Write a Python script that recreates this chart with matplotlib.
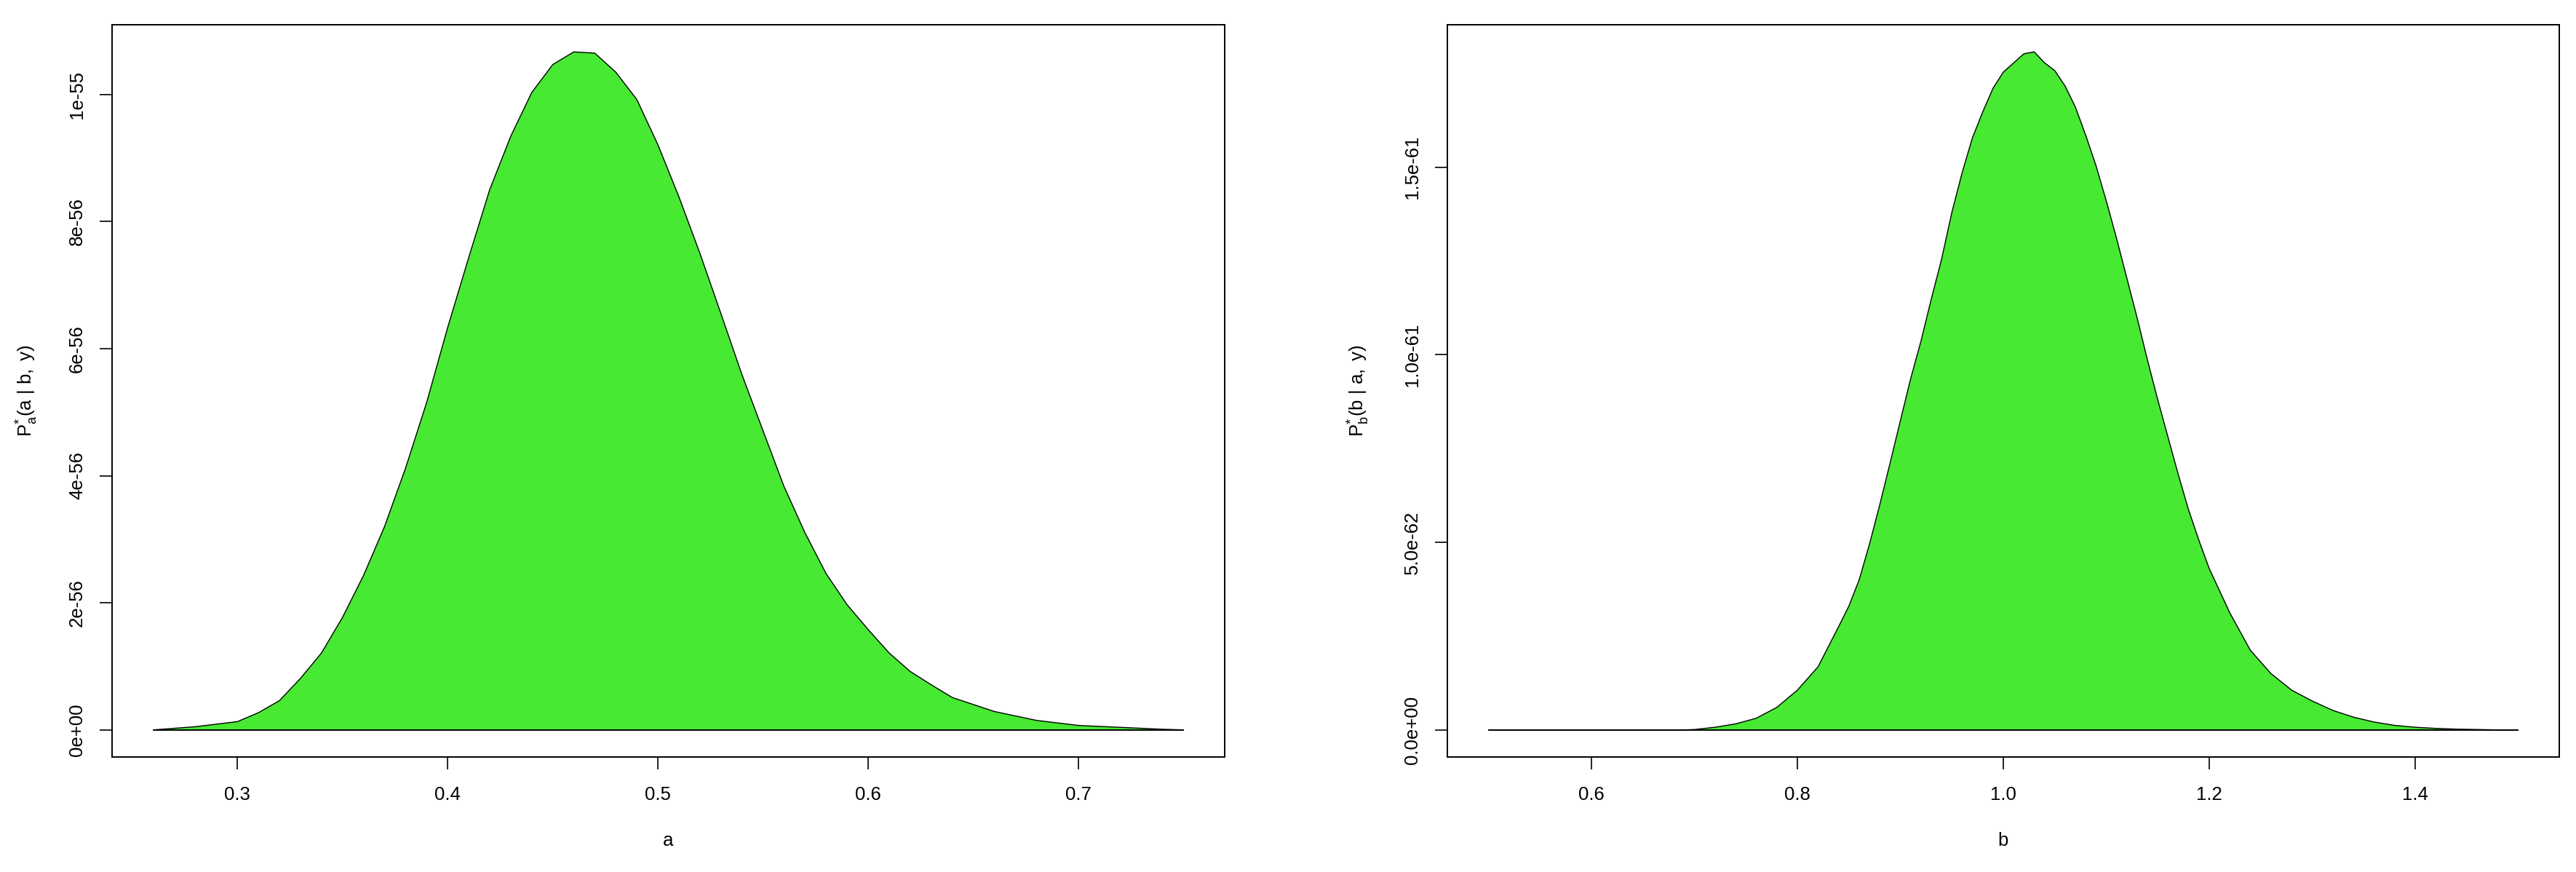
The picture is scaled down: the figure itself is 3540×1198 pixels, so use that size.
import numpy as np
import matplotlib
matplotlib.use("Agg")
import matplotlib.pyplot as plt

# conditional posterior of a (values in units of 1e-56)
a_grid = [0.26, 0.28, 0.30, 0.31, 0.32, 0.33, 0.34, 0.35, 0.36, 0.37, 0.38, 0.39,
          0.40, 0.41, 0.42, 0.43, 0.44, 0.45, 0.46, 0.47, 0.48, 0.49, 0.50, 0.51,
          0.52, 0.53, 0.54, 0.55, 0.56, 0.57, 0.58, 0.59, 0.60, 0.61, 0.62, 0.63,
          0.64, 0.66, 0.68, 0.70, 0.72, 0.74, 0.75]
a_dens = [0.0, 0.05, 0.13, 0.27, 0.46, 0.81, 1.21, 1.77, 2.43, 3.20, 4.12, 5.15,
          6.33, 7.43, 8.50, 9.34, 10.03, 10.47, 10.67, 10.65, 10.35, 9.92, 9.21, 8.39,
          7.50, 6.55, 5.59, 4.71, 3.83, 3.10, 2.46, 1.97, 1.58, 1.21, 0.92, 0.71,
          0.51, 0.29, 0.15, 0.07, 0.04, 0.01, 0.0]

# conditional posterior of b (values in units of 1e-62)
b_grid = [0.50, 0.60, 0.69, 0.70, 0.72, 0.74, 0.76, 0.78, 0.80, 0.82, 0.84, 0.85,
          0.86, 0.87, 0.88, 0.89, 0.90, 0.91, 0.92, 0.93, 0.94, 0.95, 0.96, 0.97,
          0.98, 0.99, 1.00, 1.02, 1.03, 1.04, 1.05, 1.06, 1.07, 1.08, 1.09, 1.10,
          1.11, 1.12, 1.13, 1.14, 1.15, 1.16, 1.17, 1.18, 1.19, 1.20, 1.22, 1.24,
          1.26, 1.28, 1.30, 1.32, 1.34, 1.36, 1.38, 1.40, 1.42, 1.44, 1.46, 1.48,
          1.50]
b_dens = [0.0, 0.0, 0.0, 0.01, 0.07, 0.16, 0.31, 0.60, 1.06, 1.68, 2.75, 3.30,
          4.00, 4.95, 6.00, 7.11, 8.24, 9.36, 10.36, 11.48, 12.54, 13.79, 14.85, 15.78,
          16.47, 17.10, 17.53, 18.02, 18.07, 17.78, 17.57, 17.16, 16.60, 15.85, 15.04, 14.10,
          13.10, 12.04, 10.98, 9.86, 8.80, 7.80, 6.80, 5.86, 5.05, 4.30, 3.12, 2.12,
          1.50, 1.06, 0.77, 0.52, 0.34, 0.21, 0.12, 0.07, 0.04, 0.02, 0.01, 0.0,
          0.0]

a_ticks = [0.3, 0.4, 0.5, 0.6, 0.7]
a_ticklabels = ["0.3", "0.4", "0.5", "0.6", "0.7"]
a_yticks = [0, 2e-56, 4e-56, 6e-56, 8e-56, 1e-55]
a_yticklabels = ["0e+00", "2e-56", "4e-56", "6e-56", "8e-56", "1e-55"]
b_ticks = [0.6, 0.8, 1.0, 1.2, 1.4]
b_ticklabels = ["0.6", "0.8", "1.0", "1.2", "1.4"]
b_yticks = [0, 5e-62, 1e-61, 1.5e-61]
b_yticklabels = ["0.0e+00", "5.0e-62", "1.0e-61", "1.5e-61"]

plt.rcParams['font.family'] = ['Liberation Sans', 'DejaVu Sans']
plt.rcParams['mathtext.fontset'] = 'custom'
plt.rcParams['mathtext.rm'] = 'Liberation Sans'
plt.rcParams['mathtext.it'] = 'Liberation Sans'
plt.rcParams['font.size'] = 18.5

fill_col = '#47E932'

fig = plt.figure(figsize=(35.4, 11.98), dpi=100)
ax1 = fig.add_axes([154 / 3540, 158 / 1198, 1529 / 3540, 1006 / 1198])
ax2 = fig.add_axes([1989 / 3540, 158 / 1198, 1528 / 3540, 1006 / 1198])


def r_lim(v):
    lo, hi = min(v), max(v)
    pad = 0.04 * (hi - lo)
    return lo - pad, hi + pad


def panel(ax, x, y, xt, xtl, yt, ytl, xlab, ylab, ylab_x):
    ax.fill(x, y, facecolor=fill_col, edgecolor='black', linewidth=1.0)
    ax.plot([x[0], x[-1]], [0, 0], color='black', linewidth=1.3)
    ax.set_xlim(r_lim(x))
    ax.set_ylim(r_lim(y))
    ax.set_xticks(xt)
    ax.set_xticklabels(xtl)
    ax.set_yticks(yt)
    ax.set_yticklabels(ytl, rotation=90, va='center')
    ax.tick_params(length=12, width=1.2, pad=17)
    ax.tick_params(axis='y', pad=14)
    for s in ax.spines.values():
        s.set_linewidth(1.4)
    ax.set_xlabel(xlab)
    ax.xaxis.label.set_va('center')
    ax.xaxis.set_label_coords(0.5, -0.114)
    ax.set_ylabel(ylab)
    ax.yaxis.label.set_va('center')
    ax.yaxis.set_label_coords(ylab_x, 0.5)


a = np.array(a_grid)
ya = np.array(a_dens) * 1e-56
panel(ax1, a, ya, a_ticks, a_ticklabels, a_yticks, a_yticklabels,
      'a', r'$\mathrm{P}_{a}^{*}(a\ |\ b,\ y)$', -0.0765)

b = np.array(b_grid)
yb = np.array(b_dens) * 1e-62
panel(ax2, b, yb, b_ticks, b_ticklabels, b_yticks, b_yticklabels,
      'b', r'$\mathrm{P}_{b}^{*}(b\ |\ a,\ y)$', -0.0798)

fig.savefig('out.png', dpi=100)
